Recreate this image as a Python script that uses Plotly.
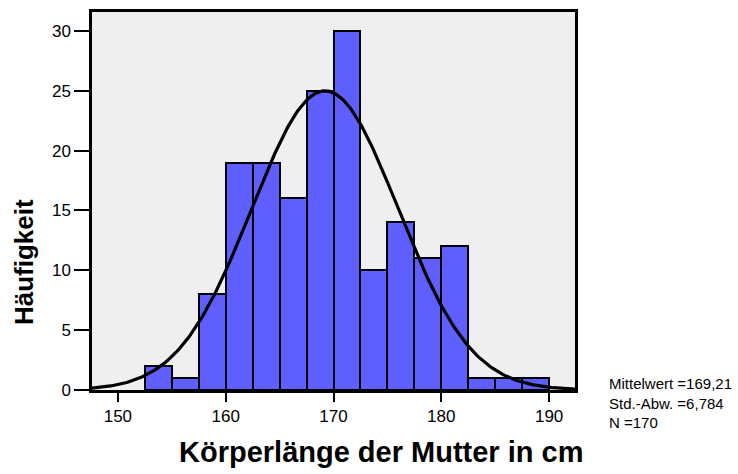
import numpy as np
import plotly.graph_objects as go

# Histogram of mothers' body height (bin width 2.5 cm)
bin_starts = [152.5, 155.0, 157.5, 160.0, 162.5, 165.0, 167.5, 170.0,
              172.5, 175.0, 177.5, 180.0, 182.5, 185.0, 187.5]
counts = [2, 1, 8, 19, 19, 16, 25, 30, 10, 14, 11, 12, 1, 1, 1]
bin_width = 2.5

# Summary statistics
mean_val = 169.21
std_val = 6.784
n_val = 170

x_ticks = [150, 160, 170, 180, 190]
y_ticks = [0, 5, 10, 15, 20, 25, 30]

centers = [s + bin_width / 2 for s in bin_starts]

# Fitted normal curve scaled to counts
xc = np.linspace(147.5, 192.5, 300)
yc = n_val * bin_width / (std_val * np.sqrt(2 * np.pi)) * np.exp(-0.5 * ((xc - mean_val) / std_val) ** 2)

fig = go.Figure()
fig.add_trace(go.Bar(
    x=centers, y=counts, width=bin_width,
    marker=dict(color="rgb(95,95,255)", line=dict(color="black", width=2)),
    showlegend=False, hoverinfo="skip",
))
fig.add_trace(go.Scatter(
    x=xc, y=yc, mode="lines", line=dict(color="black", width=3.2),
    showlegend=False, hoverinfo="skip",
))

font_family = "Liberation Sans, Arial, sans-serif"

def de_num(v, digits):
    return f"{v:.{digits}f}".replace(".", ",")

stats_text = (f"Mittelwert ={de_num(mean_val, 2)}"
              f"<br>Std.-Abw. ={de_num(std_val, 3)}"
              f"<br>N ={n_val}")

fig.update_layout(
    width=738, height=474,
    margin=dict(l=92, r=163, t=9, b=84),
    paper_bgcolor="white",
    plot_bgcolor="#efefef",
    bargap=0,
    font=dict(family=font_family, color="black"),
    xaxis=dict(
        range=[147.6, 192.4], tickvals=x_ticks, ticks="outside", ticklen=9,
        tickwidth=2, tickcolor="black", tickfont=dict(size=17),
        showgrid=False, zeroline=False, showline=True, linecolor="black",
        linewidth=2.5, mirror=True,
    ),
    yaxis=dict(
        range=[0, 31.58], tickvals=y_ticks, ticks="outside", ticklen=15,
        tickwidth=2, tickcolor="black", tickfont=dict(size=17),
        showgrid=False, zeroline=False, showline=True, linecolor="black",
        linewidth=2.5, mirror=True,
    ),
    annotations=[
        dict(text="<b>Körperlänge der Mutter in cm</b>", xref="paper", yref="paper",
             x=(381 - 92) / (575 - 92), y=-(452 - 390) / 381, xanchor="center",
             yanchor="middle", showarrow=False, font=dict(size=29)),
        dict(text="<b>Häufigkeit</b>", xref="paper", yref="paper",
             x=-(92 - 24) / 483, y=(390 - 261) / 381, xanchor="center",
             yanchor="middle", textangle=-90, showarrow=False, font=dict(size=26)),
        dict(text=stats_text,
             xref="paper", yref="paper", x=(607 - 92) / 483, y=(390 - 373) / 381,
             xanchor="left", yanchor="top", align="left", showarrow=False,
             font=dict(size=15)),
    ],
)

fig.write_html("out.html")
